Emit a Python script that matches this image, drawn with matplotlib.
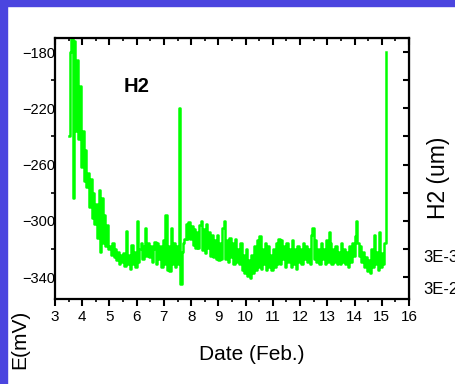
import numpy as np
import matplotlib
matplotlib.use('Agg')
import matplotlib.pyplot as plt
from matplotlib.patches import Rectangle
from matplotlib.ticker import MultipleLocator

plt.rcParams['font.family'] = ['Liberation Sans', 'DejaVu Sans']

# ===== Data: potential E (mV) sampled every 0.05 day from Feb 3.50 =====
START_DATE = 3.50
STEP = 0.05
e_mv = [
    -240, -180, -168, -284, -172, -236, -186, -242, -204, -262,  # 3.50
    -236, -272, -250, -276, -266, -290, -270, -298, -280, -302,  # 4.00
    -288, -312, -278, -322, -284, -316, -296, -318, -303, -320,  # 4.50
    -318, -324, -316, -326, -320, -328, -322, -331, -324, -329,  # 5.00
    -323, -332, -307, -331, -324, -334, -317, -331, -322, -333,  # 5.50
    -300, -329, -320, -316, -327, -318, -305, -325, -316, -326,  # 6.00
    -318, -329, -320, -315, -331, -316, -327, -318, -333, -314,  # 6.50
    -331, -296, -335, -318, -336, -305, -331, -316, -333, -318,  # 7.00
    -331, -220, -345, -322, -316, -313, -302, -313, -301, -313,  # 7.50
    -304, -317, -306, -319, -308, -319, -303, -300, -321, -306,  # 8.00
    -323, -302, -319, -308, -325, -310, -326, -314, -327, -310,  # 8.50
    -328, -316, -327, -305, -300, -327, -314, -329, -312, -326,  # 9.00
    -316, -331, -313, -329, -320, -331, -316, -335, -324, -337,  # 9.50
    -320, -339, -328, -341, -324, -337, -318, -335, -314, -333,  # 10.00
    -311, -334, -320, -331, -316, -335, -318, -333, -324, -335,  # 10.50
    -320, -333, -316, -331, -313, -331, -314, -327, -318, -333,  # 11.00
    -316, -329, -320, -333, -314, -331, -320, -334, -318, -329,  # 11.50
    -320, -331, -316, -327, -318, -329, -320, -331, -310, -305,  # 12.00
    -327, -314, -329, -320, -331, -316, -327, -320, -331, -314,  # 12.50
    -329, -308, -316, -331, -320, -329, -318, -331, -322, -331,  # 13.00
    -316, -329, -320, -331, -322, -333, -318, -329, -316, -325,  # 13.50
    -311, -300, -316, -325, -318, -329, -322, -333, -326, -336,  # 14.00
    -328, -337, -320, -333, -310, -331, -322, -335, -308, -333,  # 14.50
    -323, -331, -316, -180,                                      # 15.00
]
dates = START_DATE + STEP * np.arange(len(e_mv))

x_ticks = list(range(3, 17))
y_ticks = [-180, -220, -260, -300, -340]

# ===== Figure =====
W, H = 455, 384
fig = plt.figure(figsize=(W / 100, H / 100), dpi=100)
fig.patch.set_facecolor('white')

# blue slide frame (top and left edges)
blue = '#4B45DF'
fig.patches.append(Rectangle((0, 1 - 6 / H), 1, 6 / H, transform=fig.transFigure,
                             color=blue, zorder=0))
fig.patches.append(Rectangle((0, 0), 7 / W, 1, transform=fig.transFigure,
                             color=blue, zorder=0))

ax = fig.add_axes([55 / W, 1 - 299 / H, (409 - 55) / W, (299 - 38) / H])
ax.plot(dates, e_mv, color='#00FF00', linewidth=1.8, drawstyle='steps-post')

ax.set_xlim(3, 16)
ax.set_ylim(-355.6, -170)

ax.set_xticks(x_ticks)
ax.xaxis.set_minor_locator(MultipleLocator(0.5))
ax.set_yticks(y_ticks)
ax.yaxis.set_minor_locator(MultipleLocator(20))

for s in ax.spines.values():
    s.set_linewidth(1.6)

ax.tick_params(axis='x', which='major', direction='out', length=5, width=1.5,
               labelsize=11, pad=3, top=False)
ax.tick_params(axis='x', which='minor', direction='out', length=2.5, width=1.2, top=False)
ax.tick_params(axis='y', which='major', direction='out', length=0, width=1.5,
               labelsize=10.5, pad=0)
ax.tick_params(axis='y', which='minor', direction='out', length=3, width=1.2)

# top spine ticks (inward)
top = ax.secondary_xaxis('top')
top.set_xticks(x_ticks)
top.xaxis.set_minor_locator(MultipleLocator(0.5))
top.tick_params(which='major', direction='in', length=5, width=1.5, labeltop=False)
top.tick_params(which='minor', direction='in', length=2, width=1.2)

# right spine ticks (inward)
right = ax.secondary_yaxis('right')
right.set_yticks(list(range(-340, -170, 20)))
right.tick_params(which='major', direction='in', length=4.5, width=1.5, labelright=False)

# ===== Texts =====
fig.text(137 / W, 1 - 87 / H, 'H2', fontsize=14.5, fontweight='bold',
         ha='center', va='center')
fig.text(252 / W, 1 - 355 / H, 'Date (Feb.)', fontsize=15, ha='center', va='center')
fig.text(20 / W, 1 - 339 / H, 'E(mV)', fontsize=15, rotation=90,
         ha='center', va='center')
fig.text(438 / W, 1 - 178 / H, 'H2 (um)', fontsize=16.5, rotation=90,
         ha='center', va='center')
fig.text(423 / W, 1 - 258 / H, '3E-3', fontsize=12, ha='left', va='center')
fig.text(423 / W, 1 - 290 / H, '3E-2', fontsize=12, ha='left', va='center')

fig.savefig('out.png', dpi=100)
